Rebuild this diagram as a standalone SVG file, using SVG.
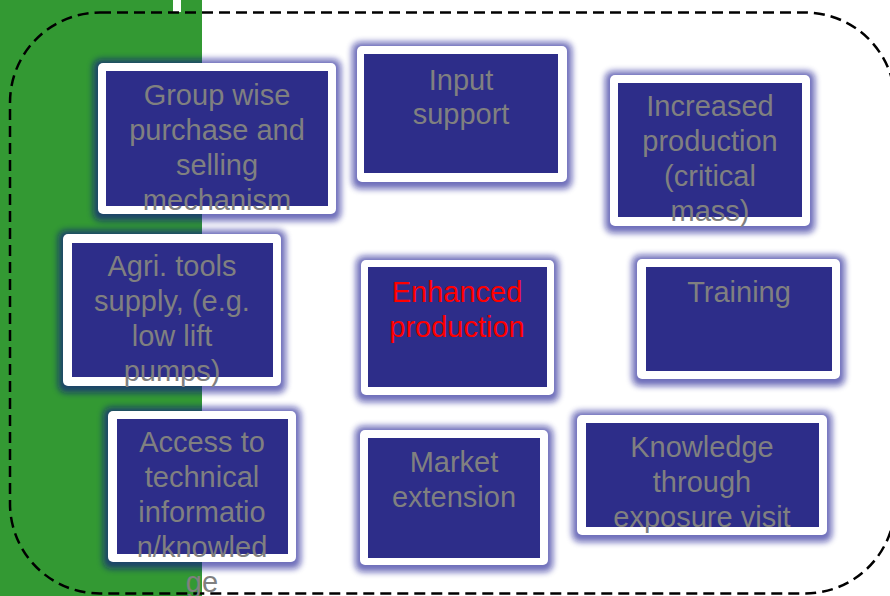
<svg xmlns="http://www.w3.org/2000/svg" width="890" height="596" viewBox="0 0 890 596">
  <defs>
    <filter id="glow" x="-20%" y="-20%" width="140%" height="140%">
      <feGaussianBlur stdDeviation="3"/>
    </filter>
    <style>
      .halo { fill: #0a0a8c; opacity: 0.6; filter: url(#glow); }
      .frame { fill: #ffffff; }
      .panel { fill: #2d2d89; }
      .lbl { font-family: "Liberation Sans", Arial, sans-serif; font-size: 29px; fill: #808080; text-anchor: middle; }
      .hot { fill: #ff0000; }
      .border { fill: none; stroke: #000000; stroke-width: 2.5; stroke-dasharray: 11 6; }
    </style>
  </defs>

  <rect x="0" y="0" width="890" height="596" fill="#ffffff"/>
  <rect x="0" y="0" width="202" height="596" fill="#339933"/>
  <rect x="173" y="0" width="8" height="12" fill="#ffffff"/>

  <rect class="border" x="10" y="12.5" width="885" height="581" rx="90" ry="90"/>

  <g id="connectors"/>

  <g id="group-wise">
    <rect class="halo" x="93" y="59" width="248" height="162" rx="8"/>
    <rect class="frame" x="98" y="63" width="238" height="151" rx="5"/>
    <rect class="panel" x="106" y="71" width="222" height="135"/>
    <text class="lbl"><tspan x="217" y="105">Group wise</tspan><tspan x="217" y="140">purchase and</tspan><tspan x="217" y="175">selling</tspan><tspan x="217" y="210">mechanism</tspan></text>
  </g>

  <g id="input-support">
    <rect class="halo" x="352" y="42" width="220" height="147" rx="8"/>
    <rect class="frame" x="357" y="46" width="210" height="136" rx="5"/>
    <rect class="panel" x="364" y="54" width="194" height="119"/>
    <text class="lbl"><tspan x="461" y="90">Input</tspan><tspan x="461" y="124">support</tspan></text>
  </g>

  <g id="increased-production">
    <rect class="halo" x="605" y="71" width="210" height="162" rx="8"/>
    <rect class="frame" x="610" y="75" width="200" height="151" rx="5"/>
    <rect class="panel" x="618" y="83" width="184" height="134"/>
    <text class="lbl"><tspan x="710" y="116">Increased</tspan><tspan x="710" y="151">production</tspan><tspan x="710" y="186">(critical</tspan><tspan x="710" y="221">mass)</tspan></text>
  </g>

  <g id="agri-tools">
    <rect class="halo" x="58" y="230" width="228" height="163" rx="8"/>
    <rect class="frame" x="63" y="234" width="218" height="152" rx="5"/>
    <rect class="panel" x="72" y="243" width="201" height="134"/>
    <text class="lbl"><tspan x="172" y="276">Agri. tools</tspan><tspan x="172" y="311">supply, (e.g.</tspan><tspan x="172" y="346">low lift</tspan><tspan x="172" y="381">pumps)</tspan></text>
  </g>

  <g id="enhanced-production">
    <rect class="halo" x="356" y="256" width="203" height="146" rx="8"/>
    <rect class="frame" x="361" y="260" width="193" height="135" rx="5"/>
    <rect class="panel" x="368" y="267" width="179" height="120"/>
    <text class="lbl hot"><tspan x="457" y="302">Enhanced</tspan><tspan x="457" y="337">production</tspan></text>
  </g>

  <g id="training">
    <rect class="halo" x="632" y="255" width="213" height="131" rx="8"/>
    <rect class="frame" x="637" y="259" width="203" height="120" rx="5"/>
    <rect class="panel" x="646" y="267" width="186" height="104"/>
    <text class="lbl"><tspan x="739" y="302">Training</tspan></text>
  </g>

  <g id="access-info">
    <rect class="halo" x="103" y="407" width="198" height="162" rx="8"/>
    <rect class="frame" x="108" y="411" width="188" height="151" rx="5"/>
    <rect class="panel" x="117" y="419" width="171" height="135"/>
    <text class="lbl"><tspan x="202" y="452">Access to</tspan><tspan x="202" y="487">technical</tspan><tspan x="202" y="522">informatio</tspan><tspan x="202" y="557">n/knowled</tspan><tspan x="202" y="592">ge</tspan></text>
  </g>

  <g id="market-extension">
    <rect class="halo" x="355" y="426" width="198" height="146" rx="8"/>
    <rect class="frame" x="360" y="430" width="188" height="135" rx="5"/>
    <rect class="panel" x="368" y="438" width="172" height="120"/>
    <text class="lbl"><tspan x="454" y="472">Market</tspan><tspan x="454" y="507">extension</tspan></text>
  </g>

  <g id="knowledge-exposure">
    <rect class="halo" x="572" y="411" width="260" height="131" rx="8"/>
    <rect class="frame" x="577" y="415" width="250" height="120" rx="5"/>
    <rect class="panel" x="586" y="423" width="233" height="104"/>
    <text class="lbl"><tspan x="702" y="457">Knowledge</tspan><tspan x="702" y="492">through</tspan><tspan x="702" y="527">exposure visit</tspan></text>
  </g>
</svg>
